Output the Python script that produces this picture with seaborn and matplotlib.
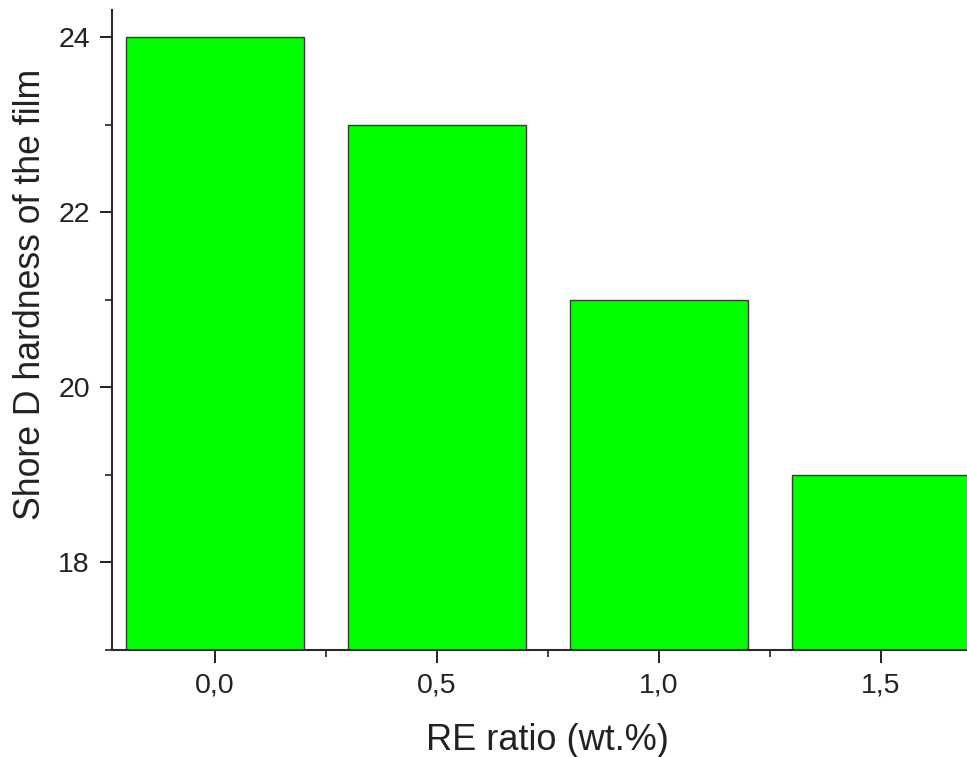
import matplotlib
matplotlib.use("Agg")
import matplotlib.pyplot as plt
import pandas as pd
import seaborn as sns
from matplotlib.ticker import AutoMinorLocator, FixedLocator


RE_RATIO = [0.0, 0.5, 1.0, 1.5]
HARDNESS = [24, 23, 21, 19]
X_TICK_LABELS = ["0,0", "0,5", "1,0", "1,5"]
Y_TICKS = [18, 20, 22, 24]

sns.set_style("ticks")
plt.rcParams["font.family"] = ["Liberation Sans", "DejaVu Sans"]

df = pd.DataFrame({"ratio": RE_RATIO, "hardness": HARDNESS})

fig = plt.figure(figsize=(9.67, 7.57), dpi=100)
ax = fig.add_axes([0.1158, 0.1413, 0.8842, 0.8455])

sns.barplot(
    data=df,
    x="ratio",
    y="hardness",
    native_scale=True,
    width=0.8,
    color="#00FF00",
    saturation=1,
    edgecolor="#3a3a3a",
    linewidth=1.0,
    ax=ax,
)

ax.set_xlim(-0.232, 1.694)
ax.set_ylim(17, 24.31)

ax.xaxis.set_major_locator(FixedLocator(RE_RATIO))
ax.set_xticklabels(X_TICK_LABELS)
ax.xaxis.set_minor_locator(FixedLocator([0.25, 0.75, 1.25]))
ax.yaxis.set_major_locator(FixedLocator(Y_TICKS))
ax.yaxis.set_minor_locator(AutoMinorLocator(2))

ax.tick_params(axis="both", which="major", direction="out", length=9, width=1.4,
               labelsize=20.5, colors="#222222", pad=7)
ax.tick_params(axis="both", which="minor", direction="out", length=5, width=1.2,
               colors="#222222")

sns.despine(ax=ax)
for side in ("left", "bottom"):
    ax.spines[side].set_linewidth(1.5)
    ax.spines[side].set_color("#2a2a2a")

ax.set_xlabel("RE ratio (wt.%)", fontsize=26, color="#222222", labelpad=18)
ax.set_ylabel("Shore D hardness of the film", fontsize=25.7, color="#222222", labelpad=7)
# the original labels sit a bit off the axes centre
ax.xaxis.label.set_x(0.509)
ax.yaxis.label.set_y(0.555)

fig.savefig("out.png", dpi=100)
